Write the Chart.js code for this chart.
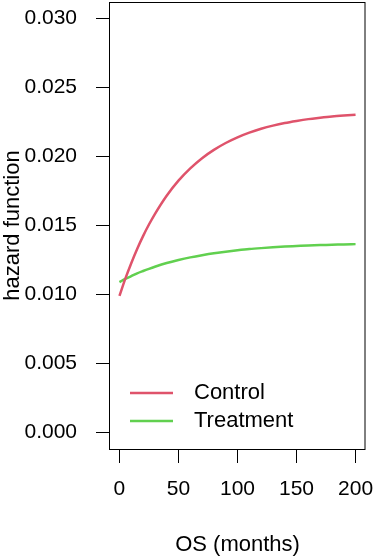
<!DOCTYPE html>
<html>
<head>
<meta charset="utf-8">
<script src="https://cdn.jsdelivr.net/npm/chart.js@4"></script>
<style>
  html, body { margin: 0; padding: 0; background: #fff; }
  #wrap { width: 375px; height: 560px; position: relative; }
</style>
</head>
<body>
<div id="wrap"><canvas id="c" width="375" height="560"></canvas></div>
<script>
// ---- data ----
const months = [0, 5, 10, 15, 20, 25, 30, 40, 50, 60, 70, 80, 90, 100, 110, 120, 130, 140, 150, 160, 170, 180, 190, 200];
const controlHazard = [0.00990, 0.01115, 0.01227, 0.01330, 0.01423, 0.01507, 0.01583, 0.01716, 0.01825, 0.01914, 0.01988, 0.02048, 0.02098, 0.02139, 0.02173, 0.02201, 0.02224, 0.02243, 0.02258, 0.02271, 0.02281, 0.02290, 0.02297, 0.02303];
const treatmentHazard = [0.01090, 0.01113, 0.01133, 0.01153, 0.01170, 0.01186, 0.01201, 0.01228, 0.01250, 0.01269, 0.01285, 0.01299, 0.01310, 0.01320, 0.01329, 0.01336, 0.01342, 0.01347, 0.01351, 0.01355, 0.01358, 0.01360, 0.01363, 0.01365];
const seriesNames = ['Control', 'Treatment'];
const xTicks = [0, 50, 100, 150, 200];
const yTicks = [0, 0.005, 0.010, 0.015, 0.020, 0.025, 0.030];
const xTitle = 'OS (months)';
const yTitle = 'hazard function';

const FONT = '"Liberation Sans", Arial, Helvetica, sans-serif';
const RED = '#DF536B';
const GREEN = '#61D04F';

const toXY = (xs, ys) => xs.map((x, i) => ({ x: x, y: ys[i] }));

const noPad = s => { s.paddingTop = 0; s.paddingBottom = 0; s.paddingLeft = 0; s.paddingRight = 0; };

const boxPlugin = {
  id: 'rbox',
  afterDraw(chart) {
    const { ctx, chartArea: a } = chart;
    ctx.save();
    ctx.strokeStyle = '#000';
    ctx.lineWidth = 1;
    ctx.strokeRect(a.left - 0.5, a.top + 0.5, a.right - a.left + 0.5, a.bottom - a.top);
    ctx.restore();
  }
};

const legendPlugin = {
  id: 'rlegend',
  afterDraw(chart) {
    const { ctx, chartArea: a } = chart;
    ctx.save();
    ctx.font = '22px ' + FONT;
    ctx.textBaseline = 'middle';
    ctx.textAlign = 'left';
    const rows = [a.bottom - 56, a.bottom - 28];
    chart.data.datasets.forEach((ds, i) => {
      const y = rows[i];
      ctx.strokeStyle = ds.borderColor;
      ctx.lineWidth = 2.5;
      ctx.beginPath();
      ctx.moveTo(a.left + 20, y);
      ctx.lineTo(a.left + 63, y);
      ctx.stroke();
      ctx.fillStyle = '#000';
      ctx.fillText(ds.label, a.left + 84, y);
    });
    ctx.restore();
  }
};

new Chart(document.getElementById('c'), {
  type: 'line',
  data: {
    datasets: [
      { label: seriesNames[0], data: toXY(months, controlHazard), borderColor: RED, borderWidth: 2.5, pointRadius: 0, cubicInterpolationMode: 'monotone', fill: false },
      { label: seriesNames[1], data: toXY(months, treatmentHazard), borderColor: GREEN, borderWidth: 2.5, pointRadius: 0, cubicInterpolationMode: 'monotone', fill: false }
    ]
  },
  options: {
    responsive: false,
    animation: false,
    devicePixelRatio: 1,
    layout: { padding: { top: 2, right: 10, left: 0, bottom: 0 } },
    plugins: { legend: { display: false }, tooltip: { enabled: false } },
    scales: {
      x: {
        type: 'linear',
        min: -8, max: 208,
        afterBuildTicks: s => { s.ticks = xTicks.map(v => ({ value: v })); },
        afterFit: s => { s.height = 111; noPad(s); },
        grid: { drawOnChartArea: false, drawTicks: true, tickLength: 14, color: '#000', lineWidth: 1 },
        border: { display: false },
        ticks: { color: '#000', font: { family: FONT, size: 21 }, padding: 14, maxRotation: 0, autoSkip: false, callback: v => String(v) },
        title: { display: true, text: xTitle, color: '#000', font: { family: FONT, size: 22 }, padding: { top: 0, bottom: 2 } }
      },
      y: {
        type: 'linear',
        min: -0.0012, max: 0.0312,
        afterBuildTicks: s => { s.ticks = yTicks.map(v => ({ value: v })); },
        afterFit: s => { s.width = 110; noPad(s); },
        grid: { drawOnChartArea: false, drawTicks: true, tickLength: 14, color: '#000', lineWidth: 1 },
        border: { display: false },
        ticks: { color: '#000', font: { family: FONT, size: 21 }, padding: 19, autoSkip: false, callback: v => v.toFixed(3) },
        title: { display: true, text: yTitle, color: '#000', font: { family: FONT, size: 22 }, padding: { top: 0, bottom: 0 } }
      }
    }
  },
  plugins: [boxPlugin, legendPlugin]
});
</script>
</body>
</html>
